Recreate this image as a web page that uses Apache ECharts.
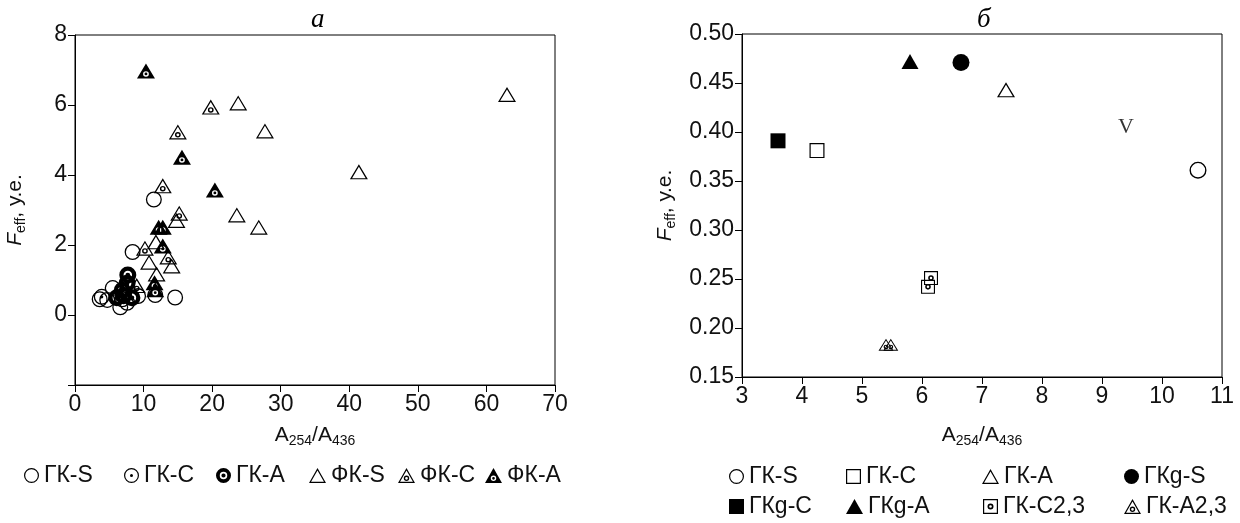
<!DOCTYPE html>
<html>
<head>
<meta charset="utf-8">
<script src="https://cdn.jsdelivr.net/npm/echarts@6/dist/echarts.min.js"></script>
<style>
  html, body { margin: 0; padding: 0; background: #fff; }
  #chart { width: 1240px; height: 523px; }
</style>
</head>
<body>
<div id="chart"></div>
<script>
// ---- data: panel a (A254/A436, Feff) ----
var gkS_a = [[11.5, 3.3], [8.4, 1.8], [14.6, 0.5], [11.7, 0.57], [9.2, 0.54], [5.5, 0.77], [3.6, 0.45], [4.7, 0.43], [6.6, 0.22], [7.6, 0.35]];
var gkC_a = [[3.9, 0.52], [6.9, 0.45]];
var gkA_a = [[7.7, 1.14], [7.6, 0.91], [6.9, 0.71], [6.1, 0.49], [8.3, 0.49], [7.1, 0.55]];
var fkS_a = [[63, 6.3], [23.8, 6.06], [27.7, 5.26], [41.4, 4.09], [23.6, 2.86], [26.8, 2.51], [14.8, 2.7], [11.8, 2.09], [14.1, 1.4], [10.8, 1.51], [11.9, 1.17]];
var fkC_a = [[19.8, 5.94], [15.0, 5.23], [12.8, 3.69], [15.2, 2.91], [10.2, 1.91], [13.6, 1.66], [9.0, 0.84]];
var fkA_a = [[10.35, 6.97], [15.6, 4.51], [20.4, 3.57], [12.2, 2.51], [12.8, 2.51], [12.8, 1.97], [11.6, 0.92], [11.7, 0.72]];

// ---- data: panel б ----
var gkS_b = [[10.6, 0.361]];
var gkC_b = [[4.25, 0.381]];
var gkA_b = [[7.4, 0.443]];
var gkgS_b = [[6.65, 0.471]];
var gkgC_b = [[3.6, 0.391]];
var gkgA_b = [[5.8, 0.472]];
var gkC23_b = [[6.15, 0.251], [6.1, 0.242]];
var gkA23_b = [[5.4, 0.183], [5.48, 0.183]];
var vMark = [[9.4, 0.405]];

var yTicksA = [0, 2, 4, 6, 8];

// ---- marker shapes ----
function circ(cx, cy, r, cw) {
  var s = cw ? 1 : 0;
  return 'M' + cx + ',' + (cy - r) + ' A' + r + ',' + r + ' 0 1,' + s + ' ' + cx + ',' + (cy + r) +
         ' A' + r + ',' + r + ' 0 1,' + s + ' ' + cx + ',' + (cy - r) + ' Z';
}
var triOut = 'M50,0 L100,87 L0,87 Z';
var triIn = 'M50,14 L12.1,80 L87.9,80 Z';
var sqOut = 'M0,0 L100,0 L100,100 L0,100 Z';
var sqIn = 'M8,8 L8,92 L92,92 L92,8 Z';

var CIRCLE_OPEN = 'path://' + circ(50, 50, 50, true) + ' ' + circ(50, 50, 42, false);
var CIRCLE_DOT = CIRCLE_OPEN + ' ' + circ(50, 50, 10, true);
var CIRCLE_BLACK = 'path://' + circ(50, 50, 50, true) + ' ' + circ(50, 50, 25, false) + ' ' + circ(50, 50, 14, true);
var TRI_OPEN = 'path://' + triOut + ' ' + triIn;
var TRI_DOT = TRI_OPEN + ' ' + circ(50, 60, 16, true) + ' ' + circ(50, 60, 8, false);
var TRI_BLACK = 'path://' + triOut + ' ' + circ(50, 60, 16, false) + ' ' + circ(50, 60, 8, true);
var SQ_OPEN = 'path://' + sqOut + ' ' + sqIn;
var SQ_DOT = SQ_OPEN + ' ' + circ(50, 50, 20, true) + ' ' + circ(50, 50, 9, false);

var font = 'Liberation Sans';
var black = '#000';

function sc(name, data, sym, size, xi) {
  return {
    name: name, type: 'scatter', xAxisIndex: xi, yAxisIndex: xi,
    data: data, symbol: sym, symbolSize: size,
    itemStyle: { color: black, opacity: 1 },
    emphasis: { disabled: true }, animation: false
  };
}

var richName = {
  a: { fontSize: 21, fontFamily: font, color: '#111', padding: [0, 0, 5, 0], verticalAlign: 'top', lineHeight: 23 },
  s: { fontSize: 14, fontFamily: font, color: '#111', verticalAlign: 'bottom', lineHeight: 15 },
  i: { fontSize: 21, fontFamily: font, fontStyle: 'italic', color: '#111', padding: [0, 0, 5, 0], verticalAlign: 'top', lineHeight: 23 }
};
var xName = '{a|A}{s|254}{a|/A}{s|436}';
var yName = '{i|F}{s|eff}{a|, у.е.}';

function legendItem(name, icon, left, top, w) {
  return {
    data: [{ name: name, icon: icon }], left: left, top: top,
    itemWidth: w || 15, itemHeight: 15, selectedMode: false,
    textStyle: { fontSize: 23, fontFamily: font, color: '#111' }, padding: 0
  };
}

var axisLabel = { fontSize: 23, fontFamily: font, color: '#111' };
var axisLine = { show: true, onZero: false, lineStyle: { color: black, width: 1 } };
var axisTick = { show: true, length: 7, lineStyle: { color: black } };

var option = {
  animation: false,
  title: [
    { text: 'a', left: 306, top: 1, textStyle: { fontFamily: 'Liberation Serif', fontStyle: 'italic', fontWeight: 'normal', fontSize: 27, color: black } },
    { text: 'б', left: 972, top: 1, textStyle: { fontFamily: 'Liberation Serif', fontStyle: 'italic', fontWeight: 'normal', fontSize: 27, color: black } }
  ],
  grid: [
    { left: 75, top: 35, width: 480, height: 350, show: true, borderColor: black, borderWidth: 1 },
    { left: 742, top: 34, width: 480, height: 343, show: true, borderColor: black, borderWidth: 1 }
  ],
  xAxis: [
    { gridIndex: 0, type: 'value', min: 0, max: 70, interval: 10, axisLine: axisLine, axisTick: axisTick,
      axisLabel: axisLabel, splitLine: { show: false },
      name: xName, nameLocation: 'middle', nameGap: 40, nameTextStyle: { rich: richName } },
    { gridIndex: 1, type: 'value', min: 3, max: 11, interval: 1, axisLine: axisLine, axisTick: axisTick,
      axisLabel: axisLabel, splitLine: { show: false },
      name: xName, nameLocation: 'middle', nameGap: 48, nameTextStyle: { rich: richName } }
  ],
  yAxis: [
    { gridIndex: 0, type: 'value', min: -2, max: 8, interval: 2, axisLine: axisLine, axisTick: axisTick,
      axisLabel: Object.assign({}, axisLabel, { formatter: function (v) { return yTicksA.indexOf(v) >= 0 ? String(v) : ''; } }),
      splitLine: { show: false },
      name: yName, nameLocation: 'middle', nameGap: 47, nameRotate: 90, nameTextStyle: { rich: richName } },
    { gridIndex: 1, type: 'value', min: 0.15, max: 0.5, interval: 0.05, axisLine: axisLine, axisTick: axisTick,
      axisLabel: Object.assign({}, axisLabel, { formatter: function (v) { return v.toFixed(2); } }),
      splitLine: { show: false },
      name: yName, nameLocation: 'middle', nameGap: 64, nameRotate: 90, nameTextStyle: { rich: richName } }
  ],
  legend: [
    legendItem('ГК-S', CIRCLE_OPEN, 24, 464),
    legendItem('ГК-С', CIRCLE_DOT, 124, 464),
    legendItem('ГК-А', CIRCLE_BLACK, 216, 464),
    legendItem('ФК-S', TRI_OPEN, 309, 464, 17),
    legendItem('ФК-С', TRI_DOT, 398, 464, 17),
    legendItem('ФК-А', TRI_BLACK, 485, 464, 17),

    legendItem('ГК-S', CIRCLE_OPEN, 729, 465),
    legendItem('ГК-С', SQ_OPEN, 846, 465),
    legendItem('ГК-А', TRI_OPEN, 982, 465, 17),
    legendItem('ГКg-S', 'circle', 1124, 465),
    legendItem('ГКg-С', 'rect', 729, 495),
    legendItem('ГКg-А', 'triangle', 846, 495, 17),
    legendItem('ГК-С2,3', SQ_DOT, 983, 495),
    legendItem('ГК-А2,3', TRI_DOT, 1124, 495, 17)
  ],
  series: [
    sc('ГК-S', gkS_a, CIRCLE_OPEN, 16, 0),
    sc('ГК-С', gkC_a, CIRCLE_DOT, 16, 0),
    sc('ФК-S', fkS_a, TRI_OPEN, [18, 15], 0),
    sc('ФК-С', fkC_a, TRI_DOT, [18, 15], 0),
    sc('ГК-А', gkA_a, CIRCLE_BLACK, 17, 0),
    sc('ФК-А', fkA_a, TRI_BLACK, [18, 15], 0),

    sc('ГК-S', gkS_b, CIRCLE_OPEN, 17, 1),
    sc('ГК-С', gkC_b, SQ_OPEN, 15, 1),
    sc('ГК-А', gkA_b, TRI_OPEN, [18, 15], 1),
    sc('ГКg-S', gkgS_b, 'circle', 17, 1),
    sc('ГКg-С', gkgC_b, 'rect', 15, 1),
    sc('ГКg-А', gkgA_b, 'triangle', [17, 15], 1),
    sc('ГК-С2,3', gkC23_b, SQ_DOT, 14, 1),
    sc('ГК-А2,3', gkA23_b, TRI_DOT, [15, 12], 1),
    {
      name: 'V', type: 'scatter', xAxisIndex: 1, yAxisIndex: 1, data: vMark,
      symbolSize: 1, itemStyle: { color: 'rgba(0,0,0,0)' }, silent: true,
      label: { show: true, position: 'inside', formatter: 'V', fontFamily: 'Liberation Serif', fontSize: 22, color: black }
    }
  ]
};

var myChart = echarts.init(document.getElementById('chart'));
myChart.setOption(option);
</script>
</body>
</html>
